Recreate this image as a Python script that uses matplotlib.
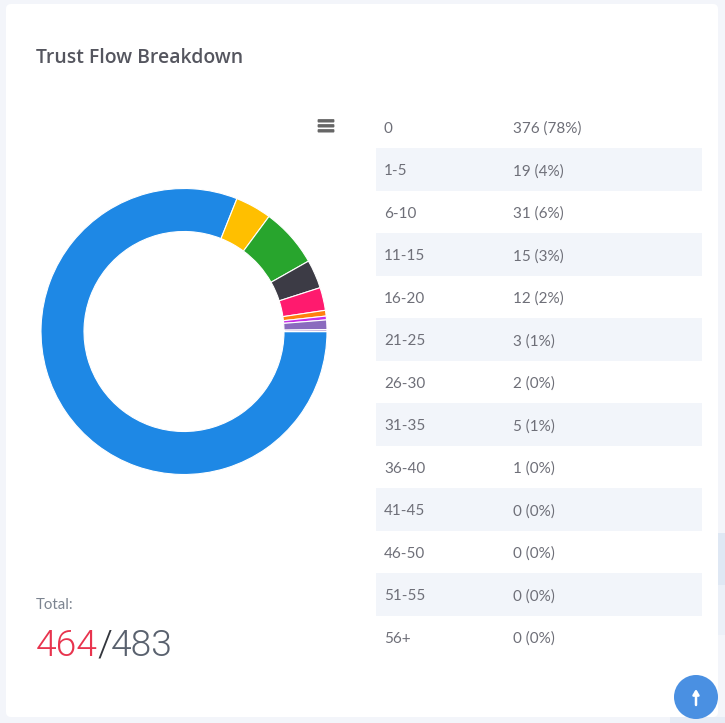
import matplotlib
matplotlib.use("Agg")
import matplotlib.pyplot as plt
from matplotlib.patches import Rectangle, FancyBboxPatch, Circle

plt.rcParams['font.family'] = ['Lato', 'DejaVu Sans']

#DATA
categories = ['0', '1-5', '6-10', '11-15', '16-20', '21-25', '26-30', '31-35', '36-40', '41-45', '46-50', '51-55', '56+']
counts = [376, 19, 31, 15, 12, 3, 2, 5, 1, 0, 0, 0, 0]
percents = [78, 4, 6, 3, 2, 1, 0, 1, 0, 0, 0, 0, 0]
colors = ['#1E88E5', '#FFBF00', '#28A52D', '#3C3B45', '#FF1A6E', '#FF7F0E', '#C62DE8', '#8A6BBE', '#A98FD0', '#1E88E5', '#FFBF00', '#28A52D', '#3C3B45']
title = 'Trust Flow Breakdown'
total_label = 'Total:'
total_done = '464'
total_all = '483'

W, H = 725, 723
fig = plt.figure(figsize=(W / 100, H / 100), dpi=100, facecolor='#F3F5FA')

#page layer, in pixels
bg = fig.add_axes([0, 0, 1, 1])
bg.set_xlim(0, W)
bg.set_ylim(H, 0)
bg.axis('off')

#faint shapes behind the card
bg.add_patch(Rectangle((718, 533), 7, 52, color='#DFE8F4', lw=0))
bg.add_patch(Rectangle((718, 585), 7, 50, color='#EBF0F8', lw=0))
bg.add_patch(Rectangle((670, 717), 55, 6, color='#E6ECF6', lw=0))

#card
bg.add_patch(FancyBboxPatch((10, 8), 704, 705, boxstyle='round,pad=4,rounding_size=5',
                            facecolor='white', edgecolor='none'))

bg.text(36, 58, title, fontsize=13.95, color='#55565F', fontweight=600, va='center', ha='left',
        family=['Open Sans', 'DejaVu Sans'])

#hamburger menu
for y in (119.5, 124.5, 129.5):
    bg.add_patch(FancyBboxPatch((318, y), 16, 2.6, boxstyle='round,pad=0.4,rounding_size=1',
                                facecolor='#666666', edgecolor='none'))

#table rows
row_top = 105.5
row_h = 42.5
for i in range(len(categories)):
    yc = row_top + row_h * (i + 0.5) + 2
    if i % 2 == 1:
        bg.add_patch(Rectangle((376, row_top + row_h * i), 326, row_h, color='#F2F5FA', lw=0))
    bg.text(384, yc, categories[i], fontsize=11, color='#6E6F78', va='center', ha='left')
    bg.text(513, yc, '%d (%d%%)' % (counts[i], percents[i]), fontsize=11, color='#6E6F78', va='center', ha='left')

#totals
bg.text(36, 605, total_label, fontsize=10.8, color='#7C8490', va='center', ha='left')
big = dict(fontsize=26.8, va='baseline', ha='left', fontweight=300, family=['Roboto', 'DejaVu Sans'])
bg.text(36, 656, total_done, color='#E8344E', **big)
bg.text(97, 656, '/', color='#33363D', **big)
bg.text(111, 656, total_all, color='#59616E', **big)

#back to top button
bg.add_patch(Circle((696, 697), 22, facecolor='#4A90E2', edgecolor='none'))
bg.annotate('', xy=(696, 689), xytext=(696, 705),
            arrowprops=dict(arrowstyle='-|>,head_width=0.18,head_length=0.3', color='white', lw=1.8, shrinkA=0, shrinkB=0))

#donut
cx, cy, r = 184, 331.5, 143
ax = fig.add_axes([(cx - r) / W, 1 - (cy + r) / H, 2 * r / W, 2 * r / H])
ax.pie(counts, colors=colors, startangle=0, counterclock=False, radius=1,
       wedgeprops=dict(width=43 / 143, edgecolor='white', linewidth=0.8))
ax.set_xlim(-1, 1)
ax.set_ylim(-1, 1)

fig.savefig('out.png', dpi=100, facecolor=fig.get_facecolor())
